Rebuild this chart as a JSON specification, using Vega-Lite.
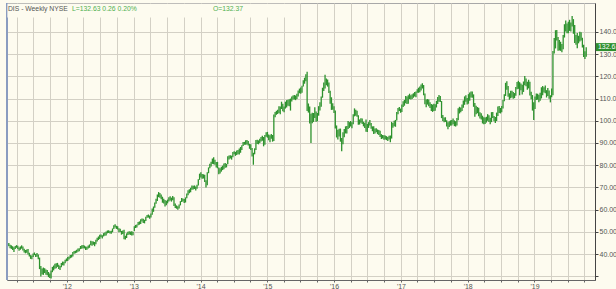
{
"$schema": "https://vega.github.io/schema/vega-lite/v6.json",
"width": 588, "height": 277,
"autosize": "none",
"padding": {"left": 7, "top": 3, "right": 21, "bottom": 9},
"background": "#fdfbef",
"config": {"font": "Liberation Sans", "view": {"stroke": "#a8a8a8", "fill": "#fdfbef"}, "axis": {"labelOverlap": false}},
"layer": [
{
"data": {"values": [
{"d":"2011-02-11","h":44.6,"l":43.0},{"d":"2011-02-18","h":44.9,"l":43.6},{"d":"2011-02-25","h":44.2,"l":42.6},
{"d":"2011-03-04","h":43.9,"l":42.3},{"d":"2011-03-11","h":43.5,"l":41.8},{"d":"2011-03-18","h":43.0,"l":40.9},{"d":"2011-03-25","h":43.6,"l":42.2},
{"d":"2011-04-01","h":44.0,"l":42.8},{"d":"2011-04-08","h":43.7,"l":42.2},{"d":"2011-04-15","h":42.9,"l":41.5},{"d":"2011-04-22","h":43.4,"l":41.9},{"d":"2011-04-29","h":43.9,"l":42.4},
{"d":"2011-05-06","h":43.4,"l":41.6},{"d":"2011-05-13","h":42.4,"l":40.7},{"d":"2011-05-20","h":41.8,"l":40.3},{"d":"2011-05-27","h":42.0,"l":40.6},
{"d":"2011-06-03","h":42.2,"l":39.8},{"d":"2011-06-10","h":40.6,"l":38.9},{"d":"2011-06-17","h":39.5,"l":37.8},{"d":"2011-06-24","h":39.3,"l":37.6},
{"d":"2011-07-01","h":40.2,"l":38.6},{"d":"2011-07-08","h":40.7,"l":39.5},{"d":"2011-07-15","h":40.0,"l":38.6},{"d":"2011-07-22","h":40.4,"l":38.8},{"d":"2011-07-29","h":39.8,"l":37.6},
{"d":"2011-08-05","h":38.4,"l":33.2},{"d":"2011-08-12","h":34.6,"l":29.9},{"d":"2011-08-19","h":33.5,"l":30.8},{"d":"2011-08-26","h":33.9,"l":30.6},
{"d":"2011-09-02","h":33.6,"l":31.4},{"d":"2011-09-09","h":33.0,"l":30.6},{"d":"2011-09-16","h":32.8,"l":30.4},{"d":"2011-09-23","h":31.9,"l":29.6},{"d":"2011-09-30","h":31.2,"l":29.2},
{"d":"2011-10-07","h":32.6,"l":29.0},{"d":"2011-10-14","h":34.2,"l":31.8},{"d":"2011-10-21","h":34.8,"l":32.6},{"d":"2011-10-28","h":35.6,"l":33.4},
{"d":"2011-11-04","h":35.8,"l":33.6},{"d":"2011-11-11","h":36.0,"l":34.2},{"d":"2011-11-18","h":35.2,"l":33.3},{"d":"2011-11-25","h":34.6,"l":32.8},
{"d":"2011-12-02","h":36.0,"l":34.0},{"d":"2011-12-09","h":36.6,"l":34.9},{"d":"2011-12-16","h":36.5,"l":34.8},{"d":"2011-12-23","h":37.4,"l":35.8},{"d":"2011-12-30","h":38.0,"l":36.7},
{"d":"2012-01-06","h":38.6,"l":36.9},{"d":"2012-01-13","h":38.9,"l":37.5},{"d":"2012-01-20","h":39.5,"l":38.1},{"d":"2012-01-27","h":39.7,"l":38.4},
{"d":"2012-02-03","h":40.9,"l":38.9},{"d":"2012-02-10","h":41.4,"l":40.1},{"d":"2012-02-17","h":41.5,"l":40.3},{"d":"2012-02-24","h":41.9,"l":40.6},
{"d":"2012-03-02","h":42.5,"l":41.0},{"d":"2012-03-09","h":42.6,"l":41.2},{"d":"2012-03-16","h":43.6,"l":42.2},{"d":"2012-03-23","h":43.9,"l":42.4},{"d":"2012-03-30","h":44.0,"l":42.6},
{"d":"2012-04-06","h":43.8,"l":42.5},{"d":"2012-04-13","h":43.4,"l":41.8},{"d":"2012-04-20","h":43.3,"l":41.9},{"d":"2012-04-27","h":43.8,"l":42.5},
{"d":"2012-05-04","h":44.3,"l":42.8},{"d":"2012-05-11","h":46.0,"l":43.9},{"d":"2012-05-18","h":45.8,"l":43.7},{"d":"2012-05-25","h":45.6,"l":44.2},
{"d":"2012-06-01","h":45.4,"l":43.5},{"d":"2012-06-08","h":46.4,"l":44.4},{"d":"2012-06-15","h":47.3,"l":45.6},{"d":"2012-06-22","h":47.9,"l":46.3},{"d":"2012-06-29","h":48.7,"l":46.8},
{"d":"2012-07-06","h":48.8,"l":47.5},{"d":"2012-07-13","h":48.5,"l":47.0},{"d":"2012-07-20","h":49.4,"l":47.9},{"d":"2012-07-27","h":49.7,"l":48.2},
{"d":"2012-08-03","h":50.1,"l":48.3},{"d":"2012-08-10","h":50.6,"l":49.3},{"d":"2012-08-17","h":50.7,"l":49.5},{"d":"2012-08-24","h":50.4,"l":49.2},{"d":"2012-08-31","h":50.5,"l":49.1},
{"d":"2012-09-07","h":51.5,"l":49.8},{"d":"2012-09-14","h":53.0,"l":51.3},{"d":"2012-09-21","h":53.4,"l":51.9},{"d":"2012-09-28","h":52.7,"l":51.3},
{"d":"2012-10-05","h":52.5,"l":51.0},{"d":"2012-10-12","h":51.6,"l":49.8},{"d":"2012-10-19","h":51.4,"l":49.9},{"d":"2012-10-26","h":50.4,"l":48.7},
{"d":"2012-11-02","h":50.6,"l":49.0},{"d":"2012-11-09","h":50.9,"l":46.6},{"d":"2012-11-16","h":48.2,"l":46.5},{"d":"2012-11-23","h":49.3,"l":47.2},{"d":"2012-11-30","h":50.0,"l":48.6},
{"d":"2012-12-07","h":50.2,"l":48.8},{"d":"2012-12-14","h":50.1,"l":48.6},{"d":"2012-12-21","h":50.2,"l":48.3},{"d":"2012-12-28","h":50.0,"l":48.4},
{"d":"2013-01-04","h":52.5,"l":50.4},{"d":"2013-01-11","h":53.1,"l":51.7},{"d":"2013-01-18","h":53.3,"l":51.9},{"d":"2013-01-25","h":54.4,"l":52.9},
{"d":"2013-02-01","h":54.7,"l":53.2},{"d":"2013-02-08","h":55.7,"l":53.5},{"d":"2013-02-15","h":56.0,"l":54.6},{"d":"2013-02-22","h":55.9,"l":54.0},
{"d":"2013-03-01","h":55.4,"l":53.8},{"d":"2013-03-08","h":56.8,"l":54.9},{"d":"2013-03-15","h":57.6,"l":56.3},{"d":"2013-03-22","h":57.8,"l":56.4},{"d":"2013-03-29","h":57.3,"l":55.9},
{"d":"2013-04-05","h":58.2,"l":56.4},{"d":"2013-04-12","h":60.5,"l":57.7},{"d":"2013-04-19","h":61.4,"l":59.0},{"d":"2013-04-26","h":63.2,"l":60.8},
{"d":"2013-05-03","h":64.9,"l":62.6},{"d":"2013-05-10","h":66.8,"l":63.9},{"d":"2013-05-17","h":67.9,"l":65.6},{"d":"2013-05-24","h":67.5,"l":65.3},{"d":"2013-05-31","h":66.8,"l":64.7},
{"d":"2013-06-07","h":65.8,"l":63.1},{"d":"2013-06-14","h":64.9,"l":62.7},{"d":"2013-06-21","h":64.3,"l":61.4},{"d":"2013-06-28","h":64.0,"l":62.0},
{"d":"2013-07-05","h":64.5,"l":62.8},{"d":"2013-07-12","h":65.6,"l":63.7},{"d":"2013-07-19","h":66.0,"l":64.1},{"d":"2013-07-26","h":65.4,"l":63.6},
{"d":"2013-08-02","h":66.1,"l":64.2},{"d":"2013-08-09","h":65.6,"l":61.6},{"d":"2013-08-16","h":62.8,"l":60.7},{"d":"2013-08-23","h":61.9,"l":60.4},{"d":"2013-08-30","h":61.5,"l":59.9},
{"d":"2013-09-06","h":62.3,"l":60.5},{"d":"2013-09-13","h":63.8,"l":61.9},{"d":"2013-09-20","h":65.2,"l":63.4},{"d":"2013-09-27","h":65.0,"l":63.6},
{"d":"2013-10-04","h":64.8,"l":63.0},{"d":"2013-10-11","h":65.5,"l":63.2},{"d":"2013-10-18","h":67.2,"l":65.1},{"d":"2013-10-25","h":68.7,"l":66.5},
{"d":"2013-11-01","h":69.2,"l":67.4},{"d":"2013-11-08","h":69.8,"l":67.8},{"d":"2013-11-15","h":70.8,"l":68.9},{"d":"2013-11-22","h":70.7,"l":69.1},{"d":"2013-11-29","h":70.9,"l":69.3},
{"d":"2013-12-06","h":70.4,"l":68.6},{"d":"2013-12-13","h":71.2,"l":69.4},{"d":"2013-12-20","h":73.7,"l":70.8},{"d":"2013-12-27","h":76.2,"l":73.4},
{"d":"2014-01-03","h":76.8,"l":74.5},{"d":"2014-01-10","h":76.0,"l":73.9},{"d":"2014-01-17","h":75.9,"l":74.0},{"d":"2014-01-24","h":75.7,"l":72.4},{"d":"2014-01-31","h":73.2,"l":69.9},
{"d":"2014-02-07","h":76.8,"l":71.0},{"d":"2014-02-14","h":79.0,"l":76.4},{"d":"2014-02-21","h":80.7,"l":78.6},{"d":"2014-02-28","h":81.5,"l":79.4},
{"d":"2014-03-07","h":83.0,"l":80.6},{"d":"2014-03-14","h":83.6,"l":80.4},{"d":"2014-03-21","h":82.5,"l":80.2},{"d":"2014-03-28","h":81.4,"l":79.0},
{"d":"2014-04-04","h":81.5,"l":78.6},{"d":"2014-04-11","h":79.0,"l":75.9},{"d":"2014-04-18","h":78.6,"l":76.3},{"d":"2014-04-25","h":79.3,"l":77.1},
{"d":"2014-05-02","h":79.8,"l":77.8},{"d":"2014-05-09","h":80.8,"l":78.2},{"d":"2014-05-16","h":81.0,"l":78.9},{"d":"2014-05-23","h":80.6,"l":79.0},{"d":"2014-05-30","h":84.0,"l":80.4},
{"d":"2014-06-06","h":84.4,"l":82.6},{"d":"2014-06-13","h":84.5,"l":83.0},{"d":"2014-06-20","h":84.3,"l":82.5},{"d":"2014-06-27","h":86.0,"l":83.6},
{"d":"2014-07-04","h":86.3,"l":84.9},{"d":"2014-07-11","h":86.0,"l":84.2},{"d":"2014-07-18","h":86.6,"l":84.6},{"d":"2014-07-25","h":86.9,"l":84.9},
{"d":"2014-08-01","h":87.5,"l":84.8},{"d":"2014-08-08","h":88.2,"l":85.6},{"d":"2014-08-15","h":89.0,"l":86.9},{"d":"2014-08-22","h":90.4,"l":88.6},{"d":"2014-08-29","h":90.5,"l":89.2},
{"d":"2014-09-05","h":91.2,"l":89.2},{"d":"2014-09-12","h":91.4,"l":89.3},{"d":"2014-09-19","h":90.9,"l":88.9},{"d":"2014-09-26","h":89.6,"l":87.4},
{"d":"2014-10-03","h":89.4,"l":86.8},{"d":"2014-10-10","h":87.8,"l":83.9},{"d":"2014-10-17","h":85.6,"l":80.2},{"d":"2014-10-24","h":87.6,"l":84.9},{"d":"2014-10-31","h":91.3,"l":86.8},
{"d":"2014-11-07","h":91.5,"l":89.6},{"d":"2014-11-14","h":91.2,"l":89.4},{"d":"2014-11-21","h":91.9,"l":90.0},{"d":"2014-11-28","h":92.7,"l":90.7},
{"d":"2014-12-05","h":93.3,"l":91.0},{"d":"2014-12-12","h":92.7,"l":88.5},{"d":"2014-12-19","h":93.6,"l":89.2},{"d":"2014-12-26","h":94.8,"l":92.8},
{"d":"2015-01-02","h":95.0,"l":92.4},{"d":"2015-01-09","h":93.8,"l":91.2},{"d":"2015-01-16","h":93.5,"l":90.3},{"d":"2015-01-23","h":94.1,"l":91.9},{"d":"2015-01-30","h":93.6,"l":90.6},
{"d":"2015-02-06","h":102.8,"l":90.9},{"d":"2015-02-13","h":104.0,"l":101.6},{"d":"2015-02-20","h":104.5,"l":102.7},{"d":"2015-02-27","h":105.0,"l":103.1},
{"d":"2015-03-06","h":106.5,"l":103.5},{"d":"2015-03-13","h":106.4,"l":103.0},{"d":"2015-03-20","h":108.6,"l":105.3},{"d":"2015-03-27","h":107.7,"l":104.3},
{"d":"2015-04-03","h":106.4,"l":103.9},{"d":"2015-04-10","h":108.6,"l":105.5},{"d":"2015-04-17","h":109.3,"l":106.0},{"d":"2015-04-24","h":109.5,"l":106.8},
{"d":"2015-05-01","h":109.7,"l":106.5},{"d":"2015-05-08","h":110.0,"l":104.6},{"d":"2015-05-15","h":111.0,"l":108.7},{"d":"2015-05-22","h":111.4,"l":109.6},{"d":"2015-05-29","h":111.6,"l":109.6},
{"d":"2015-06-05","h":111.4,"l":109.3},{"d":"2015-06-12","h":112.2,"l":109.8},{"d":"2015-06-19","h":113.6,"l":111.0},{"d":"2015-06-26","h":114.5,"l":112.4},
{"d":"2015-07-03","h":115.0,"l":112.2},{"d":"2015-07-10","h":115.8,"l":112.6},{"d":"2015-07-17","h":118.3,"l":115.4},{"d":"2015-07-24","h":119.4,"l":116.7},{"d":"2015-07-31","h":121.0,"l":117.8},
{"d":"2015-08-07","h":122.1,"l":104.4},{"d":"2015-08-14","h":107.8,"l":103.7},{"d":"2015-08-21","h":106.4,"l":98.8},{"d":"2015-08-28","h":103.2,"l":90.0},
{"d":"2015-09-04","h":103.6,"l":98.9},{"d":"2015-09-11","h":103.5,"l":99.5},{"d":"2015-09-18","h":106.1,"l":101.3},{"d":"2015-09-25","h":104.2,"l":99.6},
{"d":"2015-10-02","h":103.5,"l":99.8},{"d":"2015-10-09","h":106.6,"l":102.3},{"d":"2015-10-16","h":108.4,"l":104.6},{"d":"2015-10-23","h":111.0,"l":106.3},{"d":"2015-10-30","h":114.9,"l":110.4},
{"d":"2015-11-06","h":117.2,"l":113.4},{"d":"2015-11-13","h":120.7,"l":114.5},{"d":"2015-11-20","h":119.0,"l":116.0},{"d":"2015-11-27","h":118.6,"l":115.4},
{"d":"2015-12-04","h":117.3,"l":112.5},{"d":"2015-12-11","h":113.5,"l":107.7},{"d":"2015-12-18","h":110.6,"l":104.9},{"d":"2015-12-25","h":107.9,"l":105.0},
{"d":"2016-01-01","h":106.6,"l":103.5},{"d":"2016-01-08","h":104.6,"l":96.5},{"d":"2016-01-15","h":97.9,"l":92.5},{"d":"2016-01-22","h":96.0,"l":91.6},{"d":"2016-01-29","h":96.4,"l":92.9},
{"d":"2016-02-05","h":96.5,"l":90.6},{"d":"2016-02-12","h":92.3,"l":86.3},{"d":"2016-02-19","h":94.8,"l":89.4},{"d":"2016-02-26","h":96.3,"l":92.6},
{"d":"2016-03-04","h":97.5,"l":94.3},{"d":"2016-03-11","h":97.7,"l":94.3},{"d":"2016-03-18","h":99.9,"l":96.3},{"d":"2016-03-25","h":99.4,"l":96.8},
{"d":"2016-04-01","h":99.9,"l":97.4},{"d":"2016-04-08","h":99.4,"l":96.6},{"d":"2016-04-15","h":103.0,"l":98.5},{"d":"2016-04-22","h":105.6,"l":102.0},{"d":"2016-04-29","h":105.0,"l":102.3},
{"d":"2016-05-06","h":104.5,"l":101.8},{"d":"2016-05-13","h":102.5,"l":98.2},{"d":"2016-05-20","h":100.6,"l":98.3},{"d":"2016-05-27","h":101.2,"l":99.1},
{"d":"2016-06-03","h":101.0,"l":98.6},{"d":"2016-06-10","h":99.6,"l":97.5},{"d":"2016-06-17","h":99.1,"l":96.7},{"d":"2016-06-24","h":100.6,"l":95.1},
{"d":"2016-07-01","h":98.6,"l":95.0},{"d":"2016-07-08","h":99.4,"l":96.8},{"d":"2016-07-15","h":100.4,"l":97.9},{"d":"2016-07-22","h":99.0,"l":96.4},{"d":"2016-07-29","h":97.5,"l":95.3},
{"d":"2016-08-05","h":97.5,"l":94.0},{"d":"2016-08-12","h":96.5,"l":94.3},{"d":"2016-08-19","h":96.6,"l":94.8},{"d":"2016-08-26","h":96.1,"l":94.0},
{"d":"2016-09-02","h":95.9,"l":93.6},{"d":"2016-09-09","h":95.5,"l":92.7},{"d":"2016-09-16","h":94.0,"l":91.8},{"d":"2016-09-23","h":93.6,"l":92.0},{"d":"2016-09-30","h":93.5,"l":91.5},
{"d":"2016-10-07","h":93.4,"l":91.6},{"d":"2016-10-14","h":93.1,"l":91.3},{"d":"2016-10-21","h":92.7,"l":90.9},{"d":"2016-10-28","h":93.3,"l":91.6},
{"d":"2016-11-04","h":93.4,"l":90.3},{"d":"2016-11-11","h":99.5,"l":92.0},{"d":"2016-11-18","h":99.0,"l":96.9},{"d":"2016-11-25","h":100.0,"l":97.5},
{"d":"2016-12-02","h":100.4,"l":97.3},{"d":"2016-12-09","h":104.0,"l":100.1},{"d":"2016-12-16","h":105.8,"l":103.0},{"d":"2016-12-23","h":106.2,"l":104.4},{"d":"2016-12-30","h":105.5,"l":103.6},
{"d":"2017-01-06","h":107.3,"l":104.0},{"d":"2017-01-13","h":108.8,"l":106.2},{"d":"2017-01-20","h":109.4,"l":106.8},{"d":"2017-01-27","h":111.2,"l":107.9},
{"d":"2017-02-03","h":111.0,"l":107.6},{"d":"2017-02-10","h":111.5,"l":107.7},{"d":"2017-02-17","h":112.2,"l":109.8},{"d":"2017-02-24","h":111.5,"l":109.6},
{"d":"2017-03-03","h":112.0,"l":109.8},{"d":"2017-03-10","h":112.4,"l":110.4},{"d":"2017-03-17","h":113.0,"l":111.0},{"d":"2017-03-24","h":113.2,"l":110.6},{"d":"2017-03-31","h":114.2,"l":112.6},
{"d":"2017-04-07","h":114.9,"l":112.6},{"d":"2017-04-14","h":115.4,"l":112.9},{"d":"2017-04-21","h":116.3,"l":113.6},{"d":"2017-04-28","h":116.9,"l":114.6},
{"d":"2017-05-05","h":116.1,"l":111.5},{"d":"2017-05-12","h":112.3,"l":107.5},{"d":"2017-05-19","h":109.6,"l":106.1},{"d":"2017-05-26","h":109.8,"l":107.3},
{"d":"2017-06-02","h":109.6,"l":106.6},{"d":"2017-06-09","h":108.4,"l":105.8},{"d":"2017-06-16","h":107.6,"l":104.4},{"d":"2017-06-23","h":107.3,"l":104.0},{"d":"2017-06-30","h":107.7,"l":104.4},
{"d":"2017-07-07","h":107.4,"l":104.5},{"d":"2017-07-14","h":109.0,"l":106.0},{"d":"2017-07-21","h":110.7,"l":107.6},{"d":"2017-07-28","h":111.6,"l":108.6},
{"d":"2017-08-04","h":111.2,"l":108.5},{"d":"2017-08-11","h":108.9,"l":101.2},{"d":"2017-08-18","h":102.6,"l":99.9},{"d":"2017-08-25","h":101.5,"l":99.3},
{"d":"2017-09-01","h":101.6,"l":99.5},{"d":"2017-09-08","h":100.3,"l":97.4},{"d":"2017-09-15","h":99.4,"l":96.2},{"d":"2017-09-22","h":99.8,"l":97.2},{"d":"2017-09-29","h":100.2,"l":97.8},
{"d":"2017-10-06","h":100.4,"l":97.9},{"d":"2017-10-13","h":101.0,"l":98.5},{"d":"2017-10-20","h":100.2,"l":97.6},{"d":"2017-10-27","h":99.8,"l":97.4},
{"d":"2017-11-03","h":101.3,"l":97.9},{"d":"2017-11-10","h":105.6,"l":100.2},{"d":"2017-11-17","h":106.3,"l":103.3},{"d":"2017-11-24","h":106.0,"l":103.8},
{"d":"2017-12-01","h":107.3,"l":104.4},{"d":"2017-12-08","h":109.1,"l":105.9},{"d":"2017-12-15","h":111.0,"l":107.2},{"d":"2017-12-22","h":111.5,"l":108.6},{"d":"2017-12-29","h":110.3,"l":107.3},
{"d":"2018-01-05","h":112.0,"l":107.7},{"d":"2018-01-12","h":112.7,"l":109.0},{"d":"2018-01-19","h":113.2,"l":110.5},{"d":"2018-01-26","h":113.2,"l":110.4},
{"d":"2018-02-02","h":111.9,"l":106.3},{"d":"2018-02-09","h":108.0,"l":101.8},{"d":"2018-02-16","h":106.8,"l":103.0},{"d":"2018-02-23","h":106.2,"l":103.4},
{"d":"2018-03-02","h":105.9,"l":102.0},{"d":"2018-03-09","h":103.8,"l":101.0},{"d":"2018-03-16","h":103.4,"l":100.6},{"d":"2018-03-23","h":102.3,"l":98.8},{"d":"2018-03-30","h":101.6,"l":98.5},
{"d":"2018-04-06","h":101.5,"l":98.6},{"d":"2018-04-13","h":101.8,"l":99.2},{"d":"2018-04-20","h":103.0,"l":100.0},{"d":"2018-04-27","h":102.5,"l":99.5},
{"d":"2018-05-04","h":101.4,"l":98.4},{"d":"2018-05-11","h":103.9,"l":99.4},{"d":"2018-05-18","h":104.0,"l":101.3},{"d":"2018-05-25","h":102.2,"l":99.8},
{"d":"2018-06-01","h":101.7,"l":99.0},{"d":"2018-06-08","h":103.7,"l":99.9},{"d":"2018-06-15","h":106.4,"l":102.2},{"d":"2018-06-22","h":106.7,"l":103.5},{"d":"2018-06-29","h":105.8,"l":103.3},
{"d":"2018-07-06","h":106.7,"l":103.8},{"d":"2018-07-13","h":109.4,"l":105.5},{"d":"2018-07-20","h":112.0,"l":108.8},{"d":"2018-07-27","h":117.1,"l":111.2},
{"d":"2018-08-03","h":117.8,"l":114.0},{"d":"2018-08-10","h":115.7,"l":110.8},{"d":"2018-08-17","h":112.4,"l":109.5},{"d":"2018-08-24","h":113.5,"l":110.2},{"d":"2018-08-31","h":113.5,"l":110.5},
{"d":"2018-09-07","h":113.0,"l":109.9},{"d":"2018-09-14","h":112.5,"l":110.2},{"d":"2018-09-21","h":115.2,"l":111.3},{"d":"2018-09-28","h":117.5,"l":114.2},
{"d":"2018-10-05","h":118.0,"l":114.4},{"d":"2018-10-12","h":117.4,"l":111.5},{"d":"2018-10-19","h":116.8,"l":113.8},{"d":"2018-10-26","h":116.2,"l":111.8},
{"d":"2018-11-02","h":117.7,"l":113.0},{"d":"2018-11-09","h":120.2,"l":116.0},{"d":"2018-11-16","h":119.0,"l":115.6},{"d":"2018-11-23","h":117.6,"l":114.0},{"d":"2018-11-30","h":118.5,"l":114.6},
{"d":"2018-12-07","h":117.6,"l":111.4},{"d":"2018-12-14","h":113.1,"l":109.7},{"d":"2018-12-21","h":111.6,"l":104.6},{"d":"2018-12-28","h":108.3,"l":100.4},
{"d":"2019-01-04","h":111.0,"l":105.3},{"d":"2019-01-11","h":112.3,"l":109.4},{"d":"2019-01-18","h":112.2,"l":109.5},{"d":"2019-01-25","h":111.7,"l":108.3},
{"d":"2019-02-01","h":112.6,"l":109.0},{"d":"2019-02-08","h":115.1,"l":110.1},{"d":"2019-02-15","h":115.7,"l":111.5},{"d":"2019-02-22","h":115.1,"l":112.7},
{"d":"2019-03-01","h":115.9,"l":112.4},{"d":"2019-03-08","h":113.8,"l":110.5},{"d":"2019-03-15","h":114.8,"l":111.2},{"d":"2019-03-22","h":113.6,"l":109.9},{"d":"2019-03-29","h":111.5,"l":108.3},
{"d":"2019-04-05","h":114.5,"l":110.6},{"d":"2019-04-12","h":131.4,"l":111.5},{"d":"2019-04-19","h":137.3,"l":130.3},{"d":"2019-04-26","h":140.8,"l":132.6},
{"d":"2019-05-03","h":140.9,"l":136.2},{"d":"2019-05-10","h":137.8,"l":131.5},{"d":"2019-05-17","h":136.4,"l":131.7},{"d":"2019-05-24","h":135.6,"l":131.5},{"d":"2019-05-31","h":134.6,"l":130.9},
{"d":"2019-06-07","h":138.6,"l":132.2},{"d":"2019-06-14","h":143.5,"l":137.5},{"d":"2019-06-21","h":145.2,"l":140.2},{"d":"2019-06-28","h":143.8,"l":139.4},
{"d":"2019-07-05","h":144.6,"l":139.4},{"d":"2019-07-12","h":145.5,"l":140.5},{"d":"2019-07-19","h":144.3,"l":140.2},{"d":"2019-07-26","h":147.2,"l":142.5},
{"d":"2019-08-02","h":145.8,"l":139.2},{"d":"2019-08-09","h":143.2,"l":135.0},{"d":"2019-08-16","h":138.6,"l":134.3},{"d":"2019-08-23","h":139.6,"l":132.7},{"d":"2019-08-30","h":138.3,"l":134.9},
{"d":"2019-09-06","h":140.1,"l":135.7},{"d":"2019-09-13","h":139.9,"l":136.2},{"d":"2019-09-20","h":137.4,"l":133.0},{"d":"2019-09-27","h":134.3,"l":128.7},
{"d":"2019-10-04","h":131.3,"l":127.8},{"d":"2019-10-11","h":133.1,"l":128.9}
]},
"mark": {"type": "rule", "color": "#2d922d", "strokeWidth": 1.3},
"encoding": {
"x": {"field": "d", "type": "temporal",
"scale": {"domain": [{"year": 2011, "month": 2, "date": 8}, {"year": 2019, "month": 11, "date": 28}]},
"axis": {"title": null, "orient": "bottom", "tickCount": {"interval": "month", "step": 3}, "grid": true, "gridColor": "#d3d0c5", "gridWidth": 1, "domainColor": "#666666", "tickColor": "#666666", "tickSize": 2, "labelFontSize": 7, "labelColor": "#555555", "labelPadding": 0, "labelOverlap": false, "labelExpr": "month(datum.value) == 0 ? timeFormat(datum.value, \"'%y\") : ''"}},
"y": {"field": "l", "type": "quantitative",
"scale": {"domain": [28.29, 153.06], "nice": false, "zero": false},
"axis": {"title": null, "orient": "right", "values": [30, 40, 50, 60, 70, 80, 90, 100, 110, 120, 130, 140], "tickCount": 20, "format": ".2f", "grid": true, "gridColor": "#d3d0c5", "gridWidth": 1, "domainColor": "#444444", "tickColor": "#444444", "tickSize": 3, "labelPadding": 1, "labelFontSize": 7, "labelColor": "#555555", "labelOverlap": false, "labelExpr": "datum.value < 35 ? '' : datum.label"}},
"y2": {"field": "h"}
}
},
{
"data": {"values": [{}]},
"mark": {"type": "rule", "color": "#8a9cc0", "strokeWidth": 2},
"encoding": {"x": {"datum": {"year": 2011, "month": 2, "date": 8}, "type": "temporal"}}
},
{
"data": {"values": [{}]},
"mark": {"type": "rect", "color": "#fdfbef"},
"encoding": {
"x": {"datum": {"year": 2011, "month": 2, "date": 10}, "type": "temporal"},
"x2": {"datum": {"year": 2015, "month": 6, "date": 29}},
"y": {"datum": 146.5}, "y2": {"datum": 152.7}
}
},
{
"data": {"values": [{}]},
"mark": {"type": "text", "align": "left", "baseline": "middle", "fontSize": 6.8, "color": "#555555"},
"encoding": {"x": {"datum": {"year": 2011, "month": 2, "date": 13}, "type": "temporal"}, "y": {"datum": 150.4}, "text": {"value": "DIS - Weekly  NYSE"}}
},
{
"data": {"values": [{}]},
"mark": {"type": "text", "align": "left", "baseline": "middle", "fontSize": 6.8, "color": "#4fb04f"},
"encoding": {"x": {"datum": {"year": 2012, "month": 1, "date": 29}, "type": "temporal"}, "y": {"datum": 150.4}, "text": {"value": "L=132.63  0.26  0.20%"}}
},
{
"data": {"values": [{}]},
"mark": {"type": "text", "align": "left", "baseline": "middle", "fontSize": 6.8, "color": "#4fb04f"},
"encoding": {"x": {"datum": {"year": 2014, "month": 3, "date": 10}, "type": "temporal"}, "y": {"datum": 150.4}, "text": {"value": "O=132.37"}}
},
{
"data": {"values": [{}]},
"mark": {"type": "rect", "color": "#2f8f2f", "clip": false},
"encoding": {
"x": {"datum": {"year": 2019, "month": 12, "date": 3}, "type": "temporal"},
"x2": {"datum": {"year": 2020, "month": 4, "date": 1}},
"y": {"datum": 135.0}, "y2": {"datum": 131.4}
}
},
{
"data": {"values": [{}]},
"mark": {"type": "text", "align": "left", "baseline": "middle", "fontSize": 7, "color": "#ffffff", "clip": false},
"encoding": {"x": {"datum": {"year": 2019, "month": 12, "date": 14}, "type": "temporal"}, "y": {"datum": 133.2}, "text": {"value": "132.63"}}
}
]
}
